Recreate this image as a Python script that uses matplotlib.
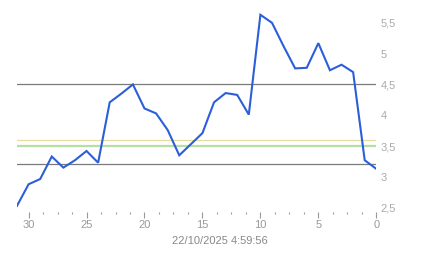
import numpy as np
import matplotlib
matplotlib.use('Agg')
import matplotlib.pyplot as plt
from matplotlib.ticker import MultipleLocator, FuncFormatter

# === 数据 ===
days = list(range(31, -1, -1))
values = [2.53, 2.88, 2.965, 3.33, 3.15, 3.27, 3.42, 3.23, 4.21, 4.35, 4.50,
          4.11, 4.03, 3.76, 3.35, 3.53, 3.71, 4.21, 4.36, 4.33, 4.01, 5.63,
          5.50, 5.12, 4.76, 4.77, 5.17, 4.73, 4.82, 4.70, 3.27, 3.13]
gray_levels = [4.5, 3.21]
yellow_level = 3.605
green_levels = [3.525, 3.50]
date_label = '22/10/2025 4:59:56'

plt.rcParams['font.family'] = ['Liberation Sans', 'DejaVu Sans']

W, H = 443, 258
fig = plt.figure(figsize=(W / 100, H / 100), dpi=100)
ax = fig.add_axes([17 / W, 46 / H, (376.3 - 17) / W, 212 / H])

for lv in gray_levels:
    ax.axhline(lv, color='#7a7a7a', lw=0.9, zorder=1)
ax.axhline(yellow_level, color='#e8dca0', lw=0.9, zorder=1)
for lv in green_levels:
    ax.axhline(lv, color='#b5e0a5', lw=0.9, zorder=1)

ax.plot(days, values, color='#2b5fd9', lw=1.5, zorder=3, solid_joinstyle='miter')

ax.set_xlim(31, 0)
ax.set_ylim(2.43, 5.87)

for s in ax.spines.values():
    s.set_visible(False)

ax.xaxis.set_major_locator(MultipleLocator(5))
ax.xaxis.set_minor_locator(MultipleLocator(1.25))
ax.tick_params(axis='x', which='major', length=4, width=0.8, color='#999999',
               labelsize=8, labelcolor='#999999', pad=2)
ax.tick_params(axis='x', which='minor', length=1.5, width=0.8, color='#999999')

ax.yaxis.tick_right()
ax.yaxis.set_major_locator(MultipleLocator(0.5))
ax.yaxis.set_major_formatter(FuncFormatter(lambda v, p: f'{v:g}'.replace('.', ',')))
ax.tick_params(axis='y', length=0, labelsize=8, labelcolor='#aaaaaa', pad=3)

fig.text(220 / W, 1 - 241 / H, date_label, ha='center', va='center',
         fontsize=8, color='#888888')

fig.savefig('out.png', dpi=100)
